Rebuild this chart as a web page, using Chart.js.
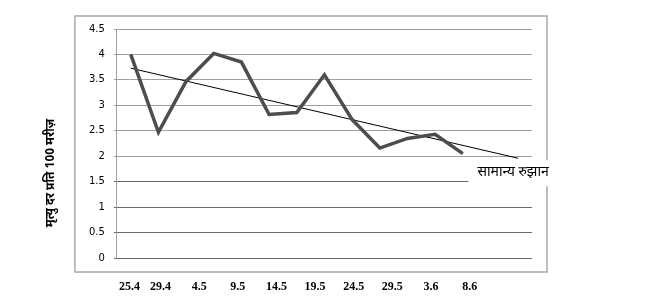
<!DOCTYPE html>
<html>
<head>
<meta charset="utf-8">
<script src="https://cdn.jsdelivr.net/npm/chart.js@4/dist/chart.umd.min.js"></script>
<style>
  html, body { margin: 0; padding: 0; background: #fff; }
  #wrap { position: relative; width: 650px; height: 298px; }
</style>
</head>
<body>
<div id="wrap"><canvas id="chart"></canvas></div>
<script>
// mortality rate per 100 patients, one reading per period
const mortality = [4.0, 2.47, 3.47, 4.02, 3.85, 2.82, 2.86, 3.6, 2.72, 2.16, 2.35, 2.43, 2.05]
const trendX = [0, 14]
const trendValues = [3.73, 1.96]
// dates written under the chart (day.month)
const dateLabels = ['25.4', '29.4', '4.5', '9.5', '14.5', '19.5', '24.5', '29.5', '3.6', '8.6']
const yTicks = [0, 0.5, 1, 1.5, 2, 2.5, 3, 3.5, 4, 4.5]
const yTitle = 'मृत्यु दर प्रति 100 मरीज़'
const trendLabel = 'सामान्य रुझान'

const toDate = s => {
  const [d, m] = s.split('.').map(Number)
  return new Date(2000, m - 1, d)
}
const firstDate = toDate(dateLabels[0])
const dayOffsets = dateLabels.map(s => Math.round((toDate(s) - firstDate) / 86400000))

const devanagari = "'Noto Sans Devanagari', 'Lohit Devanagari', 'Mangal', 'Noto Sans', sans-serif"

const framePlugin = {
  id: 'frame',
  beforeDraw (chart) {
    const { ctx, chartArea: a } = chart
    ctx.save()
    ctx.strokeStyle = '#a8a8a8'
    ctx.lineWidth = 1.5
    ctx.strokeRect(a.left - 42, a.top - 13, a.right - a.left + 57, a.bottom - a.top + 27)
    // rotated y title
    ctx.translate(a.left - 65, a.top + 144)
    ctx.rotate(-Math.PI / 2)
    ctx.fillStyle = '#000'
    ctx.font = 'bold 12px ' + devanagari
    ctx.textAlign = 'center'
    ctx.textBaseline = 'middle'
    ctx.fillText(yTitle, 0, 0)
    ctx.restore()
  },
  afterDraw (chart) {
    const { ctx } = chart
    const x = chart.scales.x.getPixelForValue(trendX[1])
    const y = chart.scales.y.getPixelForValue(trendValues[1])
    ctx.save()
    ctx.font = '14px ' + devanagari
    const w = ctx.measureText(trendLabel).width
    const cx = x - 5
    const cy = y + 15
    ctx.fillStyle = '#fff'
    ctx.fillRect(cx - w / 2 - 9, cy - 13, w + 18, 26)
    ctx.fillStyle = '#000'
    ctx.textAlign = 'center'
    ctx.textBaseline = 'middle'
    ctx.fillText(trendLabel, cx, cy)
    ctx.restore()
  }
}

new Chart(document.getElementById('chart').getContext('2d'), {
  type: 'line',
  data: {
    datasets: [
      {
        label: 'mortality',
        data: mortality.map((v, i) => ({ x: i, y: v })),
        borderColor: '#4d4d4d',
        borderWidth: 3.5,
        pointRadius: 0,
        tension: 0
      },
      {
        label: 'trend',
        data: trendX.map((x, i) => ({ x: x, y: trendValues[i] })),
        borderColor: '#000',
        borderWidth: 1,
        pointRadius: 0
      }
    ]
  },
  plugins: [framePlugin],
  options: {
    responsive: true,
    maintainAspectRatio: false,
    animation: false,
    layout: { padding: { left: 80, right: 118, top: 29, bottom: 4 } },
    plugins: {
      legend: { display: false },
      tooltip: { enabled: false }
    },
    scales: {
      x: {
        type: 'linear',
        display: false,
        min: -0.5,
        max: 14.5
      },
      dates: {
        type: 'linear',
        position: 'bottom',
        axis: 'x',
        min: -1.64,
        max: 52.07,
        afterBuildTicks: scale => {
          scale.ticks = dayOffsets.map(v => ({ value: v }))
        },
        afterFit: scale => { scale.height = 36 },
        grid: { display: false, drawTicks: false },
        border: { display: false },
        ticks: {
          autoSkip: false,
          maxRotation: 0,
          padding: 22,
          color: '#000',
          font: { family: "'Liberation Serif', 'Times New Roman', serif", size: 12, weight: 'bold' },
          callback: v => dateLabels[dayOffsets.indexOf(v)]
        }
      },
      y: {
        min: 0,
        max: 4.5,
        afterBuildTicks: scale => {
          scale.ticks = yTicks.map(v => ({ value: v }))
        },
        grid: {
          color: c => (c.tick && c.tick.value <= 1.5 ? '#6a6a6a' : '#a0a0a0'),
          tickLength: 3,
          lineWidth: 1
        },
        border: { color: '#a0a0a0', width: 1 },
        ticks: {
          padding: 9,
          color: '#000',
          font: { family: "'DejaVu Sans', Verdana, sans-serif", size: 10 },
          callback: v => String(v)
        }
      }
    }
  }
})
</script>
</body>
</html>
